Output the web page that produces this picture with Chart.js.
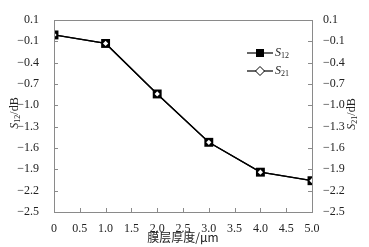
<!DOCTYPE html>
<html>
<head>
<meta charset="utf-8">
<script src="https://cdn.jsdelivr.net/npm/chart.js@4"></script>
<style>
  html, body { margin: 0; padding: 0; background: #fff; }
  #wrap { width: 369px; height: 247px; position: relative; }
</style>
</head>
<body>
<div id="wrap"><canvas id="chart"></canvas></div>
<script>
// Film thickness vs S12 / S21 (dB)
const thickness  = [0, 1, 2, 3, 4, 5];
const s12Values  = [-0.01, -0.13, -0.84, -1.52, -1.94, -2.06];
const s21Values  = [-0.01, -0.13, -0.84, -1.52, -1.94, -2.06];
const xTicks     = [0, 0.5, 1, 1.5, 2, 2.5, 3, 3.5, 4, 4.5, 5];
const yTicks     = [-2.5, -2.2, -1.9, -1.6, -1.3, -1.0, -0.7, -0.4, -0.1, 0.2];
const xTitle     = '膜层厚度/μm';

const SERIF = 'Liberation Serif';
const INK   = '#222';
const FRAME = '#8a8a8a';

Chart.defaults.font.family = SERIF;

// top label in the source figure reads "0.1"
const fmtY = v => (v > 0.15 ? '0.1' : v.toFixed(1).replace('-', '\u2212'));
const fmtX = v => (v === 0 ? '0' : v.toFixed(1));

// ── Frame, inward ticks, titles with subscripts, legend ───────────────────
const decor = {
  id: 'decor',
  afterDraw(chart) {
    const { ctx, chartArea: a, scales } = chart;
    ctx.save();

    // box
    ctx.strokeStyle = FRAME;
    ctx.lineWidth = 1;
    ctx.strokeRect(Math.round(a.left) + 0.5, Math.round(a.top) + 0.5,
                   Math.round(a.right - a.left), Math.round(a.bottom - a.top));

    // inward tick marks
    ctx.beginPath();
    xTicks.forEach(v => {
      const x = Math.round(scales.x.getPixelForValue(v)) + 0.5;
      ctx.moveTo(x, a.bottom); ctx.lineTo(x, a.bottom - 4);
    });
    yTicks.forEach(v => {
      const y = Math.round(scales.y.getPixelForValue(v)) + 0.5;
      ctx.moveTo(a.left, y);  ctx.lineTo(a.left + 4, y);
      ctx.moveTo(a.right, y); ctx.lineTo(a.right - 4, y);
    });
    ctx.stroke();

    // S_xx/dB drawn rotated
    function sTitle(sub, cx, cy) {
      ctx.save();
      ctx.translate(cx, cy);
      ctx.rotate(-Math.PI / 2);
      ctx.fillStyle = INK;
      ctx.textBaseline = 'middle';
      const fS = 'italic 12px ' + SERIF, fSub = '8px ' + SERIF, fU = '12px ' + SERIF;
      ctx.font = fS;   const wS = ctx.measureText('S').width;
      ctx.font = fSub; const wSub = ctx.measureText(sub).width;
      ctx.font = fU;   const wU = ctx.measureText('/dB').width;
      let x = -(wS + wSub + wU) / 2;
      ctx.font = fS;   ctx.fillText('S', x, 0); x += wS;
      ctx.font = fSub; ctx.fillText(sub, x, 3); x += wSub;
      ctx.font = fU;   ctx.fillText('/dB', x, 0);
      ctx.restore();
    }
    sTitle('12', 15, 113);
    sTitle('21', 352, 114);

    // x title
    ctx.fillStyle = INK;
    ctx.font = '12px "Noto Sans CJK SC", sans-serif';
    ctx.textAlign = 'center';
    ctx.textBaseline = 'middle';
    ctx.fillText(xTitle, (a.left + a.right) / 2, 237);

    // legend
    const lx0 = 247, lx1 = 273, mx = 260;
    const rows = [
      { sub: '12', y: 53, filled: true },
      { sub: '21', y: 71, filled: false }
    ];
    rows.forEach(r => {
      ctx.strokeStyle = '#000';
      ctx.lineWidth = 1.2;
      ctx.beginPath(); ctx.moveTo(lx0, r.y); ctx.lineTo(lx1, r.y); ctx.stroke();
      if (r.filled) {
        ctx.fillStyle = '#000';
        ctx.fillRect(mx - 4, r.y - 4, 8, 8);
      } else {
        ctx.beginPath();
        ctx.moveTo(mx, r.y - 4.5); ctx.lineTo(mx + 4.5, r.y);
        ctx.lineTo(mx, r.y + 4.5); ctx.lineTo(mx - 4.5, r.y); ctx.closePath();
        ctx.fillStyle = '#fff'; ctx.fill();
        ctx.lineWidth = 1; ctx.stroke();
      }
      ctx.fillStyle = INK;
      ctx.textAlign = 'left';
      ctx.textBaseline = 'middle';
      ctx.font = 'italic 12px ' + SERIF;
      ctx.fillText('S', lx1 + 2, r.y);
      const w = ctx.measureText('S').width;
      ctx.font = '8px ' + SERIF;
      ctx.fillText(r.sub, lx1 + 2 + w, r.y + 3);
    });

    ctx.restore();
  }
};

new Chart(document.getElementById('chart').getContext('2d'), {
  type: 'line',
  data: {
    datasets: [
      {
        label: 'S12',
        data: thickness.map((x, i) => ({ x, y: s12Values[i] })),
        yAxisID: 'y',
        order: 2,
        borderColor: '#000',
        borderWidth: 1.3,
        pointStyle: 'rect',
        pointRadius: 6.3,
        pointBackgroundColor: '#000',
        pointBorderColor: '#000',
        pointBorderWidth: 0
      },
      {
        label: 'S21',
        data: thickness.map((x, i) => ({ x, y: s21Values[i] })),
        yAxisID: 'y2',
        order: 1,
        borderColor: '#000',
        borderWidth: 1.3,
        pointStyle: 'rectRot',
        pointRadius: 2.6,
        pointBackgroundColor: '#fff',
        pointBorderColor: '#fff',
        pointBorderWidth: 0
      }
    ]
  },
  options: {
    responsive: true,
    maintainAspectRatio: false,
    animation: false,
    layout: { padding: { top: 20, left: 0, right: 0, bottom: 0 } },
    plugins: { legend: { display: false }, tooltip: { enabled: false } },
    scales: {
      x: {
        type: 'linear',
        min: 0, max: 5,
        afterBuildTicks: s => { s.ticks = xTicks.map(value => ({ value })); },
        afterFit: s => { s.height = 35; },
        grid: { display: false },
        border: { display: false },
        ticks: {
          color: INK, padding: 2, maxRotation: 0, autoSkip: false,
          font: { family: SERIF, size: 12 },
          callback: v => fmtX(v)
        }
      },
      y: {
        position: 'left',
        min: -2.5, max: 0.2,
        afterBuildTicks: s => { s.ticks = yTicks.map(value => ({ value })); },
        afterFit: s => { s.width = 54; },
        grid: { display: false },
        border: { display: false },
        ticks: {
          color: INK, padding: 7, autoSkip: false,
          font: { family: SERIF, size: 12 },
          callback: v => fmtY(v)
        }
      },
      y2: {
        position: 'right',
        min: -2.5, max: 0.2,
        afterBuildTicks: s => { s.ticks = yTicks.map(value => ({ value })); },
        afterFit: s => { s.width = 57; },
        grid: { display: false },
        border: { display: false },
        ticks: {
          color: INK, padding: 3, autoSkip: false,
          font: { family: SERIF, size: 12 },
          callback: v => fmtY(v)
        }
      }
    }
  },
  plugins: [decor]
});
</script>
</body>
</html>
